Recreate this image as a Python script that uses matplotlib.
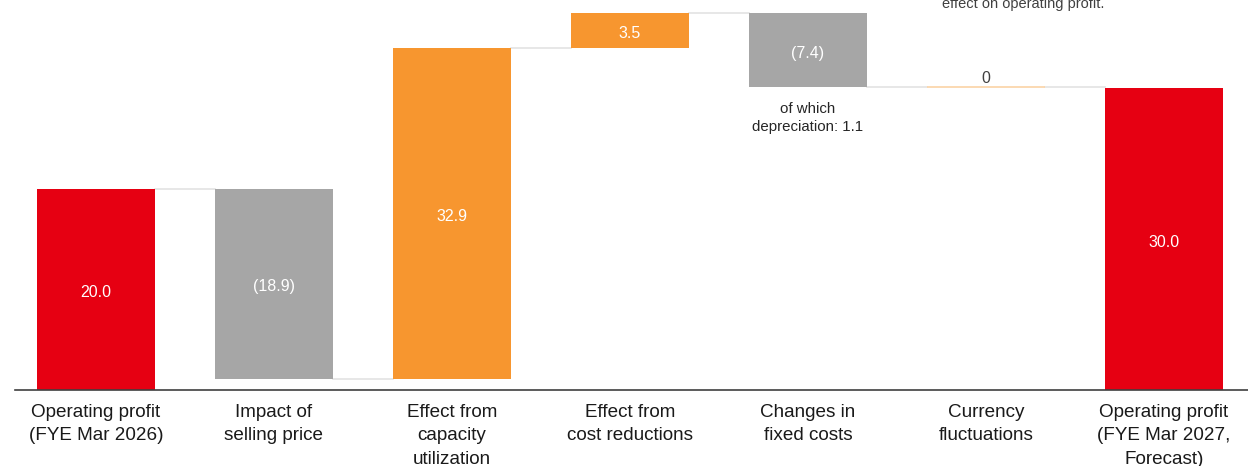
import numpy as np
import matplotlib
matplotlib.use("Agg")
import matplotlib.pyplot as plt

plt.rcParams["font.family"] = ["Liberation Sans", "DejaVu Sans"]

# -------------------- DATA --------------------
categories = [
    "Operating profit\n(FYE Mar 2026)",
    "Impact of\nselling price",
    "Effect from\ncapacity\nutilization",
    "Effect from\ncost reductions",
    "Changes in\nfixed costs",
    "Currency\nfluctuations",
    "Operating profit\n(FYE Mar 2027,\nForecast)",
]
changes = [20.0, -18.9, 32.9, 3.5, -7.4, 0.0, 30.0]
kinds = ["total", "delta", "delta", "delta", "delta", "delta", "total"]
value_labels = ["20.0", "(18.9)", "32.9", "3.5", "(7.4)", "0", "30.0"]

RED = "#E60012"
GRAY = "#A6A6A6"
ORANGE = "#F7962F"
LINE = "#E3E3E3"

# -------------------- WATERFALL --------------------
bottoms, heights, colors = [], [], []
running = 0.0
for val, kind in zip(changes, kinds):
    if kind == "total":
        bottoms.append(0.0)
        heights.append(val)
        colors.append(RED)
        running = val
    else:
        if val >= 0:
            bottoms.append(running)
            heights.append(val)
            colors.append(ORANGE)
        else:
            bottoms.append(running + val)
            heights.append(-val)
            colors.append(GRAY)
        running += val

ends = []
running = 0.0
for val, kind in zip(changes, kinds):
    running = val if kind == "total" else running + val
    ends.append(running)

fig = plt.figure(figsize=(12.48, 4.66), dpi=100)
ax = fig.add_axes([15 / 1248, 76 / 466, 1 - 15 / 1248, 390 / 466])

x = np.arange(len(categories))
width = 118 / 178

bars = ax.bar(x, heights, bottom=bottoms, width=width, color=colors,
              zorder=2)

# currency bar (zero) shown as a pale line
bars[5].set_edgecolor("#FBD3A6")
bars[5].set_linewidth(1.2)

# connector lines
for i in range(len(x) - 1):
    level = ends[i]
    ax.plot([x[i] + width / 2, x[i + 1] - width / 2], [level, level],
            color=LINE, lw=1.2, zorder=1)

# value labels
for i, lab in enumerate(value_labels):
    if i == 5:
        ax.text(x[i], ends[i] + 0.15, lab, ha="center", va="bottom",
                fontsize=11.5, color="#404040")
    else:
        ax.text(x[i], bottoms[i] + heights[i] / 2 - 0.3, lab,
                ha="center", va="center", fontsize=11.5, color="white")

ax.text(x[4], bottoms[4] - 1.4, "of which\ndepreciation: 1.1",
        ha="center", va="top", fontsize=10.8, color="#262626",
        linespacing=1.45)

# note from the slide above the chart, cut at the top edge as in the source
fig.text(1023 / 1248, 1 - 8 / 466, "effect on operating profit.",
         ha="center", va="baseline", fontsize=10.5, color="#404040")

ax.set_xlim(-0.455, 6.472)
ax.set_ylim(0, 38.8)
ax.set_xticks(x)
ax.set_xticklabels(categories, fontsize=13.6, color="#1A1A1A",
                   linespacing=1.5)
ax.tick_params(axis="x", length=0, pad=10)
ax.set_yticks([])
for side in ["top", "right", "left"]:
    ax.spines[side].set_visible(False)
ax.spines["bottom"].set_color("#404040")
ax.spines["bottom"].set_linewidth(1.2)
ax.spines["bottom"].set_zorder(3)

fig.savefig("out.png", dpi=100)
